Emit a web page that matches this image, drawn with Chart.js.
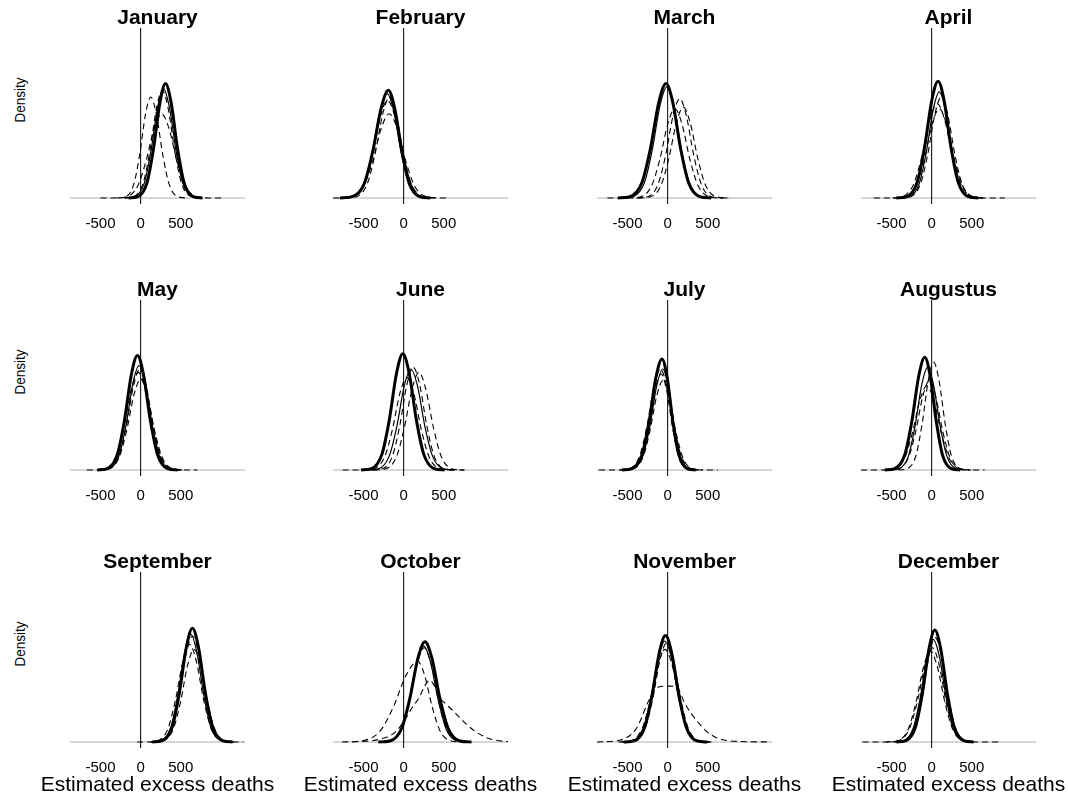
<!DOCTYPE html>
<html>
<head>
<meta charset="utf-8">
<title>Estimated excess deaths by month</title>
<script src="https://cdn.jsdelivr.net/npm/chart.js@4/dist/chart.umd.min.js"></script>
<style>
    html, body { margin: 0; padding: 0; background: #fff; overflow: hidden; }
    #page { position: relative; width: 1068px; height: 801px; font-family: "Liberation Sans", Arial, Helvetica, sans-serif; color: #000; }
    #page canvas { position: absolute; }
    .ylabel { position: absolute; font-size: 15px; line-height: 15px; white-space: nowrap; transform: translate(-50%, -50%) rotate(-90deg) scaleX(0.9); }
    .xlabel { position: absolute; font-size: 21px; line-height: 21px; white-space: nowrap; transform: translateX(-50%); }
</style>
</head>
<body>
<div id="page"></div>
<script>
// panel titles, in drawing order (row by row)
var months = ['January', 'February', 'March', 'April', 'May', 'June',
    'July', 'Augustus', 'September', 'October', 'November', 'December'];
var tickValues = [-500, 0, 500];
var xLabel = 'Estimated excess deaths';
var yLabel = 'Density';

// each month: [thick solid, thin solid, dashed, dashed, dashed], points are [deaths, density x 1e4]
var january = [
    [[-150,0],[-35,0.4],[80,4.6],[160,14.6],[241,28.4],[310,34],[379,28.4],[460,14.6],[540,4.6],[655,0.4],[770,0]],
    [[-195,0],[-75,0.4],[45,4.4],[129,14.0],[213,27.1],[285,32.5],[357,27.1],[441,14.0],[525,4.4],[645,0.4],[765,0]],
    [[-295,0],[-190,0.3],[-85,4.1],[-12,12.9],[62,25.1],[125,30],[194,25.1],[275,12.9],[355,4.1],[470,0.3],[585,0]],
    [[-210,0],[-90,0.4],[30,4.3],[114,13.8],[198,26.7],[270,32],[342,26.7],[426,13.8],[510,4.3],[630,0.4],[750,0]],
    [[-500,0],[-340,0],[-190,0.3],[-40,3.4],[65,10.8],[170,20.9],[260,25],[350,20.9],[455,10.8],[560,3.4],[710,0.3],[860,0],[1040,0]]
];
var february = [
    [[-790,0],[-640,0.4],[-490,4.3],[-385,13.8],[-280,26.7],[-190,32],[-112,26.7],[-21,13.8],[70,4.3],[200,0.4],[330,0]],
    [[-785,0],[-640,0.3],[-495,4.2],[-393,13.3],[-292,25.9],[-205,31],[-124,25.9],[-30,13.3],[65,4.2],[200,0.3],[335,0]],
    [[-735,0],[-595,0.3],[-455,4.1],[-357,12.9],[-259,25.1],[-175,30],[-94,25.1],[0,12.9],[95,4.1],[230,0.3],[365,0]],
    [[-800,0],[-650,0.3],[-500,3.9],[-395,12.5],[-290,24.2],[-200,29],[-110,24.2],[-5,12.5],[100,3.9],[250,0.3],[400,0]],
    [[-880,0],[-820,0],[-660,0.3],[-500,3.4],[-388,10.8],[-276,20.9],[-180,25],[-84,20.9],[28,10.8],[140,3.4],[300,0.3],[460,0],[570,0]]
];
var march = [
    [[-620,0],[-470,0.4],[-320,4.6],[-215,14.6],[-110,28.4],[-20,34],[64,28.4],[162,14.6],[260,4.6],[400,0.4],[540,0]],
    [[-570,0],[-430,0.4],[-290,4.5],[-192,14.2],[-94,27.6],[-10,33],[74,27.6],[172,14.2],[270,4.5],[410,0.4],[550,0]],
    [[-390,0],[-255,0.3],[-120,4.0],[-25,12.7],[69,24.6],[150,29.5],[231,24.6],[325,12.7],[420,4.0],[555,0.3],[690,0]],
    [[-365,0],[-225,0.3],[-85,3.6],[13,11.6],[111,22.5],[195,27],[279,22.5],[377,11.6],[475,3.6],[615,0.3],[755,0]],
    [[-750,0],[-490,0],[-345,0.3],[-200,3.6],[-98,11.4],[3,22.1],[90,26.5],[177,22.1],[278,11.4],[380,3.6],[525,0.3],[670,0],[790,0]]
];
var april = [
    [[-440,0],[-310,0.4],[-180,4.7],[-89,14.9],[2,29.0],[80,34.7],[155,29.0],[242,14.9],[330,4.7],[455,0.4],[580,0]],
    [[-405,0],[-280,0.3],[-155,4.3],[-67,13.5],[20,26.3],[95,31.5],[170,26.3],[257,13.5],[345,4.3],[470,0.3],[595,0]],
    [[-400,0],[-270,0.3],[-140,4.1],[-49,12.9],[42,25.1],[120,30],[198,25.1],[289,12.9],[380,4.1],[510,0.3],[640,0]],
    [[-485,0],[-340,0.3],[-195,3.6],[-93,11.4],[8,22.1],[95,26.5],[182,22.1],[283,11.4],[385,3.6],[530,0.3],[675,0]],
    [[-720,0],[-530,0],[-380,0.3],[-230,3.8],[-125,12.0],[-20,23.4],[70,28],[160,23.4],[265,12.0],[370,3.8],[520,0.3],[670,0],[910,0]]
];
var may = [
    [[-540,0],[-415,0.4],[-290,4.6],[-202,14.6],[-115,28.4],[-40,34],[35,28.4],[122,14.6],[210,4.6],[335,0.4],[460,0]],
    [[-520,0],[-395,0.3],[-270,4.2],[-182,13.3],[-95,25.9],[-20,31],[55,25.9],[142,13.3],[230,4.2],[355,0.3],[480,0]],
    [[-530,0],[-400,0.3],[-270,4.1],[-179,12.9],[-88,25.1],[-10,30],[68,25.1],[159,12.9],[250,4.1],[380,0.3],[510,0]],
    [[-540,0],[-405,0.3],[-270,3.6],[-175,11.6],[-81,22.5],[0,27],[81,22.5],[175,11.6],[270,3.6],[405,0.3],[540,0]],
    [[-670,0],[-590,0],[-450,0.3],[-310,3.9],[-212,12.5],[-114,24.2],[-30,29],[54,24.2],[152,12.5],[250,3.9],[390,0.3],[530,0],[705,0]]
];
var june = [
    [[-530,0],[-400,0.4],[-270,4.7],[-179,14.8],[-88,28.8],[-10,34.5],[68,28.8],[159,14.8],[250,4.7],[380,0.4],[510,0]],
    [[-450,0],[-315,0.3],[-180,4.1],[-85,12.9],[9,25.1],[90,30],[171,25.1],[265,12.9],[360,4.1],[495,0.3],[630,0]],
    [[-400,0],[-270,0.3],[-140,4.1],[-49,13.1],[42,25.5],[120,30.5],[198,25.5],[289,13.1],[380,4.1],[510,0.3],[640,0]],
    [[-370,0],[-230,0.3],[-90,3.9],[8,12.5],[106,24.2],[190,29],[274,24.2],[372,12.5],[470,3.9],[610,0.3],[750,0]],
    [[-760,0],[-520,0],[-380,0.3],[-240,3.7],[-142,11.8],[-44,23.0],[40,27.5],[124,23.0],[222,11.8],[320,3.7],[460,0.3],[600,0],[760,0]]
];
var july = [
    [[-570,0],[-445,0.4],[-320,4.5],[-232,14.2],[-145,27.6],[-70,33],[-7,27.6],[66,14.2],[140,4.5],[245,0.4],[350,0]],
    [[-560,0],[-435,0.3],[-310,4.1],[-222,12.9],[-135,25.1],[-60,30],[6,25.1],[83,12.9],[160,4.1],[270,0.3],[380,0]],
    [[-600,0],[-470,0.3],[-340,3.8],[-249,12.3],[-158,23.8],[-80,28.5],[-14,23.8],[63,12.3],[140,3.8],[250,0.3],[360,0]],
    [[-560,0],[-435,0.3],[-310,3.6],[-222,11.4],[-135,22.1],[-60,26.5],[15,22.1],[102,11.4],[190,3.6],[315,0.3],[440,0]],
    [[-855,0],[-610,0],[-480,0.3],[-350,4.1],[-259,12.9],[-168,25.1],[-90,30],[-12,25.1],[79,12.9],[170,4.1],[300,0.3],[430,0],[625,0]]
];
var augustus = [
    [[-585,0],[-460,0.4],[-335,4.5],[-247,14.4],[-160,28.0],[-85,33.5],[-19,28.0],[58,14.4],[135,4.5],[245,0.4],[355,0]],
    [[-530,0],[-410,0.3],[-290,4.1],[-206,13.1],[-122,25.5],[-50,30.5],[22,25.5],[106,13.1],[190,4.1],[310,0.3],[430,0]],
    [[-415,0],[-305,0.4],[-195,4.3],[-118,13.8],[-41,26.7],[25,32],[91,26.7],[168,13.8],[245,4.3],[355,0.4],[465,0]],
    [[-550,0],[-420,0.3],[-290,3.6],[-199,11.4],[-108,22.1],[-30,26.5],[48,22.1],[139,11.4],[230,3.6],[360,0.3],[490,0]],
    [[-880,0],[-620,0],[-480,0.3],[-340,3.4],[-242,10.8],[-144,20.9],[-60,25],[24,20.9],[122,10.8],[220,3.4],[360,0.3],[500,0],[660,0]]
];
var september = [
    [[145,0],[270,0.4],[395,4.6],[482,14.5],[570,28.2],[645,33.8],[720,28.2],[807,14.5],[895,4.6],[1020,0.4],[1145,0]],
    [[125,0],[250,0.4],[375,4.3],[462,13.8],[550,26.7],[625,32],[700,26.7],[787,13.8],[875,4.3],[1000,0.4],[1125,0]],
    [[125,0],[255,0.3],[385,4.3],[476,13.5],[567,26.3],[645,31.5],[723,26.3],[814,13.5],[905,4.3],[1035,0.3],[1165,0]],
    [[145,0],[275,0.3],[405,3.7],[496,11.8],[587,23.0],[665,27.5],[743,23.0],[834,11.8],[925,3.7],[1055,0.3],[1185,0]],
    [[-45,0],[70,0],[205,0.3],[340,3.9],[434,12.5],[529,24.2],[610,29],[691,24.2],[785,12.5],[880,3.9],[1015,0.3],[1150,0],[1280,0]]
];
var october = [
    [[-315,0],[-170,0.3],[-25,4.0],[76,12.8],[178,24.9],[265,29.8],[352,24.9],[453,12.8],[555,4.0],[700,0.3],[845,0]],
    [[-310,0],[-170,0.3],[-30,3.8],[68,12.3],[166,23.8],[250,28.5],[334,23.8],[432,12.3],[530,3.8],[670,0.3],[810,0]],
    [[-305,0],[-165,0.3],[-25,3.8],[73,12.0],[171,23.4],[255,28],[339,23.4],[437,12.0],[535,3.8],[675,0.3],[815,0]],
    [[-765,0],[-530,0.3],[-295,3.2],[-130,10.3],[34,20.0],[175,24],[259,20.0],[357,10.3],[455,3.2],[595,0.3],[735,0]],
    [[-640,0],[-300,0.8],[-100,3],[8,6.3],[100,10],[196,13.3],[260,16.5],[321,18.3],[380,16.8],[446,13.3],[530,11.2],[613,9.3],[700,7.2],[780,5.3],[900,3],[1030,1.3],[1150,0.5],[1300,0.1]]
];
var november = [
    [[-547,0],[-417,0.3],[-287,4.3],[-196,13.6],[-105,26.4],[-27,31.6],[51,26.4],[142,13.6],[233,4.3],[363,0.3],[493,0]],
    [[-575,0],[-440,0.3],[-305,4.1],[-210,12.9],[-116,25.1],[-35,30],[46,25.1],[140,12.9],[235,4.1],[370,0.3],[505,0]],
    [[-552,0],[-417,0.3],[-282,4.0],[-187,12.7],[-93,24.6],[-12,29.5],[69,24.6],[163,12.7],[258,4.0],[393,0.3],[528,0]],
    [[-613,0],[-468,0.3],[-323,3.7],[-221,11.8],[-120,23.0],[-33,27.5],[54,23.0],[155,11.8],[257,3.7],[402,0.3],[547,0]],
    [[-880,0],[-600,0.5],[-390,4],[-220,13],[-115,16.3],[30,16.6],[113,16.3],[217,11.3],[363,6.3],[530,2.3],[780,0.3],[1280,0]]
];
var december = [
    [[-440,0],[-320,0.4],[-200,4.5],[-116,14.3],[-32,27.8],[40,33.3],[112,27.8],[196,14.3],[280,4.5],[400,0.4],[520,0]],
    [[-480,0],[-355,0.3],[-230,4.1],[-142,13.1],[-55,25.5],[20,30.5],[95,25.5],[182,13.1],[270,4.1],[395,0.3],[520,0]],
    [[-455,0],[-330,0.3],[-205,4.2],[-117,13.3],[-30,25.9],[45,31],[120,25.9],[207,13.3],[295,4.2],[420,0.3],[545,0]],
    [[-570,0],[-425,0.3],[-280,3.8],[-178,12.0],[-77,23.4],[10,28],[88,23.4],[179,12.0],[270,3.8],[400,0.3],[530,0]],
    [[-860,0],[-575,0],[-435,0.3],[-295,3.6],[-197,11.6],[-99,22.5],[-15,27],[69,22.5],[167,11.6],[265,3.6],[405,0.3],[545,0],[845,0]]
];
var curvesByMonth = [january, february, march, april, may, june,
    july, augustus, september, october, november, december];

// shared axis range of every panel
var X_MIN = -880, X_MAX = 1300;
var Y_MIN = -1.8, Y_MAX = 50.5;

// line look for the five curves of a panel
var lineWidths = [3, 1.2, 1.1, 1.1, 1.1];
var lineDashes = [[], [], [6, 4], [6, 4], [6, 4]];

// page grid
var FONT = '"Liberation Sans", Arial, Helvetica, sans-serif';
var colLeft = [70, 333, 597, 861];
var rowTop = [0, 272, 544];
var PLOT_W = 175, PAD = 40, CANVAS_H = 244;

Chart.defaults.font.family = FONT;
Chart.defaults.color = '#000';

function toPoints(pairs) {
    return pairs.map(function (p) { return {x: p[0], y: p[1]}; });
}

function buildDatasets(curves) {
    var sets = curves.map(function (c, i) {
        return {
            data: toPoints(c),
            borderColor: '#000',
            borderWidth: lineWidths[i],
            borderDash: lineDashes[i],
            cubicInterpolationMode: 'monotone',
            fill: false
        };
    });
    // line at zero deaths
    sets.push({
        data: [{x: 0, y: Y_MIN}, {x: 0, y: Y_MAX}],
        borderColor: '#000', borderWidth: 1, tension: 0
    });
    // light baseline at zero density
    sets.push({
        data: [{x: X_MIN, y: 0}, {x: X_MAX, y: 0}],
        borderColor: '#d6d6d6', borderWidth: 2, tension: 0
    });
    return sets;
}

function makePanel(page, idx) {
    var row = Math.floor(idx / 4), col = idx % 4;
    var canvas = document.createElement('canvas');
    canvas.width = PLOT_W + 2 * PAD;
    canvas.height = CANVAS_H;
    canvas.style.left = (colLeft[col] - PAD) + 'px';
    canvas.style.top = rowTop[row] + 'px';
    page.appendChild(canvas);

    new Chart(canvas.getContext('2d'), {
        type: 'line',
        data: {datasets: buildDatasets(curvesByMonth[idx])},
        options: {
            responsive: false,
            animation: false,
            events: [],
            layout: {padding: {left: PAD, right: PAD, top: 0, bottom: 0}},
            elements: {point: {radius: 0}},
            plugins: {
                legend: {display: false},
                tooltip: {enabled: false},
                title: {
                    display: true,
                    text: months[idx],
                    color: '#000',
                    font: {size: 21, weight: 'bold', lineHeight: 0.933},
                    padding: {top: 8.4, bottom: 0}
                }
            },
            scales: {
                x: {
                    type: 'linear',
                    min: X_MIN,
                    max: X_MAX,
                    grid: {display: false, drawTicks: false, tickLength: 0},
                    border: {display: false},
                    ticks: {
                        padding: 11,
                        color: '#000',
                        font: {size: 15},
                        maxRotation: 0,
                        callback: function (v) { return String(v); }
                    },
                    afterBuildTicks: function (scale) {
                        scale.ticks = tickValues.map(function (v) { return {value: v}; });
                    }
                },
                y: {display: false, min: Y_MIN, max: Y_MAX}
            }
        }
    });
}

function addLabels(page) {
    rowTop.forEach(function (top) {
        var d = document.createElement('div');
        d.className = 'ylabel';
        d.textContent = yLabel;
        d.style.left = '19px';
        d.style.top = (top + 100) + 'px';
        page.appendChild(d);
    });
    colLeft.forEach(function (left) {
        var d = document.createElement('div');
        d.className = 'xlabel';
        d.textContent = xLabel;
        d.style.left = (left + PLOT_W / 2) + 'px';
        d.style.top = (rowTop[2] + 229) + 'px';
        page.appendChild(d);
    });
}

var page = document.getElementById('page');
for (var i = 0; i < months.length; i++) {
    makePanel(page, i);
}
addLabels(page);
</script>
</body>
</html>
